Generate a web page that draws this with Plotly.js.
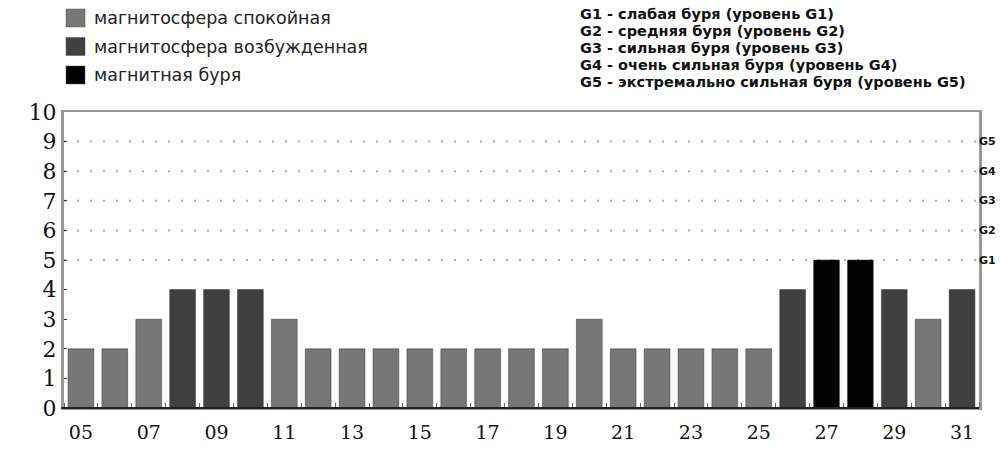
<!DOCTYPE html>
<html><head><meta charset="utf-8">
<script src="https://cdn.plot.ly/plotly-3.0.1.min.js"></script>
<style>html,body{margin:0;padding:0;background:#fff;}#chart{width:1001px;height:449px;}</style>
</head><body><div id="chart"></div>
<script>
const days = [5,6,7,8,9,10,11,12,13,14,15,16,17,18,19,20,21,22,23,24,25,26,27,28,29,30,31];
const kpValues = [2,2,3,4,4,4,3,2,2,2,2,2,2,2,2,3,2,2,2,2,2,4,5,5,4,3,4];
const states = ['calm','calm','calm','excited','excited','excited','calm','calm','calm','calm','calm','calm','calm','calm','calm','calm','calm','calm','calm','calm','calm','excited','storm','storm','excited','calm','excited'];
const tickDays = [5,7,9,11,13,15,17,19,21,23,25,27,29,31];
const tickLabels = ['05','07','09','11','13','15','17','19','21','23','25','27','29','31'];
const yTicks = [0,1,2,3,4,5,6,7,8,9,10];
const stateColors = {calm:'#777777', excited:'#404040', storm:'#000000'};
const stateLabels = ['магнитосфера спокойная','магнитосфера возбужденная','магнитная буря'];
const stateKeys = ['calm','excited','storm'];
const gLevels = [5,6,7,8,9];
const gNames = ['G1','G2','G3','G4','G5'];
const gDescriptions = [
  'G1 - слабая буря (уровень G1)',
  'G2 - средняя буря (уровень G2)',
  'G3 - сильная буря (уровень G3)',
  'G4 - очень сильная буря (уровень G4)',
  'G5 - экстремально сильная буря (уровень G5)'
];

const trace = {
  type:'bar', x:days, y:kpValues,
  marker:{color:states.map(s=>stateColors[s]), line:{color:'#333', width:0.5}},
  width:0.76, hoverinfo:'x+y', showlegend:false
};

const shapes = [];
const annotations = [];
gLevels.forEach((g,i)=>{
  shapes.push({type:'line', xref:'paper', yref:'y', x0:0, x1:1, y0:g, y1:g,
    line:{color:'#aaaaaa', width:2, dash:'2px,11px'}, layer:'below'});
  annotations.push({xref:'paper', yref:'y', x:(997-64)/915, y:g, xanchor:'right', yanchor:'middle',
    borderpad:0, text:gNames[i], showarrow:false, font:{family:'DejaVu Sans', size:11, color:'#111', weight:'bold'}});
});
// bottom black axis line
shapes.push({type:'line', xref:'paper', yref:'paper', x0:-0.003, x1:1, y0:0, y1:0, line:{color:'#222', width:2}});
// legend squares
stateKeys.forEach((k,i)=>{
  const yTop = 9 + i*28.5;
  shapes.push({type:'rect', xref:'paper', yref:'paper',
    x0:(66-64)/915, x1:(85-64)/915,
    y0:(408-yTop)/296, y1:(408-yTop-18)/296,
    fillcolor:stateColors[k], line:{color:'#555', width:0.5}});
  annotations.push({xref:'paper', yref:'paper', x:(92-64)/915, y:(408-yTop-9)/296,
    xanchor:'left', yanchor:'middle', text:stateLabels[i], showarrow:false,
    font:{family:'DejaVu Sans', size:17.5, color:'#222'}});
});
gDescriptions.forEach((t,i)=>{
  annotations.push({xref:'paper', yref:'paper', x:(578-64)/915, y:(408-14-i*17)/296,
    xanchor:'left', yanchor:'middle', text:t, showarrow:false,
    font:{family:'DejaVu Sans', size:14.5, color:'#111', weight:'bold'}});
});

const layout = {
  width:1001, height:449,
  margin:{l:64, r:22, t:112, b:41},
  paper_bgcolor:'#fff', plot_bgcolor:'#fff',
  xaxis:{range:[4.5,31.5], tickmode:'array', tickvals:tickDays, ticktext:tickLabels,
    ticks:'', showgrid:false, zeroline:false, showline:true, linecolor:'#999', linewidth:2, mirror:true,
    ticklabelstandoff:6,
    tickfont:{family:'DejaVu Serif', size:19, color:'#111'},
    minor:{tick0:4.5, dtick:1, ticks:'inside', ticklen:5, tickcolor:'#666', tickwidth:1, showgrid:false}},
  yaxis:{range:[0,10], tickmode:'array', tickvals:yTicks, ticks:'inside', ticklen:3, tickcolor:'#333',
    showgrid:false, zeroline:false, showline:true, linecolor:'#999', linewidth:3, mirror:true,
    tickfont:{family:'DejaVu Serif', size:22, color:'#111'}},
  shapes:shapes, annotations:annotations, showlegend:false
};
Plotly.newPlot('chart',[trace],layout,{displayModeBar:false, staticPlot:true});
</script></body></html>
